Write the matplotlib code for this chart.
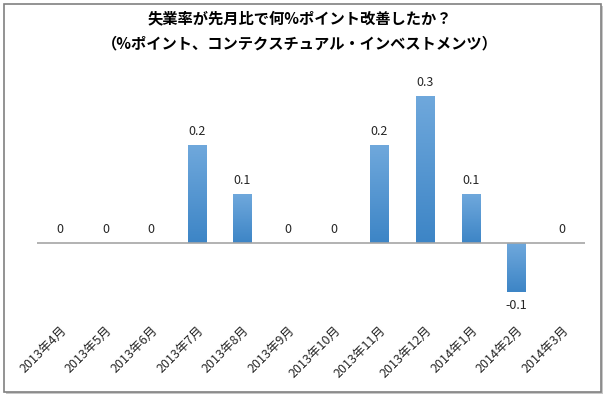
import matplotlib
matplotlib.use("Agg")
import matplotlib.pyplot as plt
import numpy as np
from matplotlib.patches import Rectangle

plt.rcParams['font.family'] = ['Noto Sans CJK JP', 'DejaVu Sans']

categories = ["2013年4月", "2013年5月", "2013年6月", "2013年7月", "2013年8月", "2013年9月",
              "2013年10月", "2013年11月", "2013年12月", "2014年1月", "2014年2月", "2014年3月"]
values = [0, 0, 0, 0.2, 0.1, 0, 0, 0.2, 0.3, 0.1, -0.1, 0]
labels = ["0", "0", "0", "0.2", "0.1", "0", "0", "0.2", "0.3", "0.1", "-0.1", "0"]
title = "失業率が先月比で何%ポイント改善したか？\n（%ポイント、コンテクスチュアル・インベストメンツ）"

W, H = 606, 397
fig = plt.figure(figsize=(W / 100, H / 100), dpi=100)

# frame with shadow
fig.patches.append(Rectangle((6 / W, 1 - 394 / H), 597 / W, 388 / H, transform=fig.transFigure,
                             facecolor='#c8c8c8', edgecolor='none', zorder=-3))
fig.patches.append(Rectangle((4 / W, 1 - 392 / H), 597 / W, 388 / H, transform=fig.transFigure,
                             facecolor='white', edgecolor='#808080', linewidth=1.2, zorder=-2))

# axes: x 37..585 px, y: zero at 243, 0.1 = 49px
y_top, y_bot = 0.35, -0.15
px_top = 243 - 0.35 / 0.1 * 49
px_bot = 243 + 0.15 / 0.1 * 49
ax = fig.add_axes([37 / W, 1 - px_bot / H, (585 - 37) / W, (px_bot - px_top) / H])
ax.patch.set_visible(False)
x = np.arange(len(categories))

bars = ax.bar(x, values, width=0.4, color='#5b9bd5', zorder=2)
grad = np.linspace(0, 1, 100).reshape(-1, 1)
cmap = matplotlib.colors.LinearSegmentedColormap.from_list('g', ['#3d85c6', '#6fa8dc'])
for b, v in zip(bars, values):
    if v == 0:
        continue
    x0 = b.get_x()
    x1 = x0 + b.get_width()
    y0, y1 = min(0, v), max(0, v)
    im = ax.imshow(grad, extent=[x0, x1, y0, y1], origin='lower', cmap=cmap,
                   aspect='auto', zorder=3)
    im.set_clip_path(b)
ax.set_xlim(-0.5, len(categories) - 0.5)
ax.set_ylim(y_bot, y_top)

ax.axhline(0, color='#a6a6a6', linewidth=1.2, zorder=4)

for xi, v, lab in zip(x, values, labels):
    if v >= 0:
        ax.annotate(lab, (xi, v), xytext=(0, 5), textcoords='offset points',
                    ha='center', va='bottom', fontsize=9, color='#262626')
    else:
        ax.annotate(lab, (xi, v), xytext=(0, -5), textcoords='offset points',
                    ha='center', va='top', fontsize=9, color='#262626')

for s in ax.spines.values():
    s.set_visible(False)
ax.set_yticks([])
ax.set_xticks(x)
ax.set_xticklabels(categories, rotation=45, ha='right', rotation_mode='anchor',
                   fontsize=9, color='#262626')
ax.tick_params(axis='x', length=0, pad=5)

fig.text(300 / W, 1 - 31 / H, title, ha='center', va='center', fontsize=11,
         fontweight='bold', linespacing=1.75, color='#000000')

fig.savefig('out.png', dpi=100)
